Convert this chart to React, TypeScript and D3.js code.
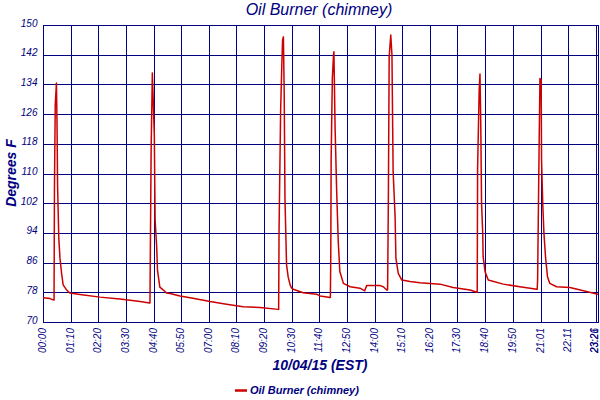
import React, { useEffect, useRef } from 'react';
import * as d3 from 'd3';

// minutes after midnight, 10/04/15
const timeMinutes = [
  0, 18, 27, 28, 29, 31, 34, 35.5, 37, 40, 43, 47, 51, 60, 68, 94, 144, 195, 246, 270,
  271, 272, 274, 277, 282, 284, 288, 290, 296, 305, 313, 322, 347, 380, 423, 465, 507, 550, 596,
  597, 598, 602, 605, 607, 609, 611, 613, 617, 621, 626, 630, 634, 659, 693, 702, 727,
  728, 729, 730, 733, 736, 737, 740, 744, 748, 752, 761, 778, 803, 815, 820, 854, 862, 871,
  873, 875, 877, 881, 884, 887, 892, 894, 900, 909, 930, 955, 1006, 1039, 1082, 1099,
  1100, 1101, 1105, 1107, 1109, 1111, 1114, 1115, 1120, 1128, 1166, 1208, 1251,
  1252, 1253, 1257, 1259, 1262, 1263, 1266, 1269, 1273, 1278, 1284, 1301, 1335, 1377, 1406,
];

const degreesF = [
  76.5, 76.3, 75.9, 75.9, 105.6, 128.4, 134.4, 123.6, 106.4, 92.6, 87.2, 83.2, 80, 78.6, 77.8, 77.4, 76.7, 76.2, 75.5, 75.1,
  75.1, 89.4, 116.9, 137.1, 120.4, 97.5, 90.2, 84, 79.4, 78.6, 77.8, 77.7, 77, 76.4, 75.5, 74.8, 74.1, 73.9, 73.4,
  73.4, 94.8, 126.9, 139.2, 146, 146.8, 132, 103.3, 85.4, 82.2, 80, 79.1, 78.8, 77.9, 77.5, 77, 76.6,
  76.6, 87.2, 114.1, 135.6, 141.9, 142.8, 122.2, 105.1, 91.6, 83.6, 80.4, 79.5, 79.1, 78.4, 79.8, 79.8, 79.5, 78.6,
  78.6, 104.2, 141.4, 147.3, 141.9, 110.5, 98.4, 87.2, 83.1, 81.3, 80.9, 80.6, 80.2, 79.3, 78.6, 78,
  78, 111.4, 132.5, 136.8, 123.5, 102, 93.9, 87.6, 83.5, 81.3, 80.2, 79.5, 78.8,
  78.8, 81.3, 119, 135.6, 135.2, 113.6, 102, 94, 87.6, 82.2, 80.4, 79.5, 79.3, 78.2, 77.5,
];

const xTickMinutes = [0, 70, 140, 210, 280, 350, 420, 490, 560, 630, 700, 770, 840, 910, 980, 1050, 1120, 1190, 1261, 1331, 1401, 1406];
const xTickLabels = ['00:00', '01:10', '02:20', '03:30', '04:40', '05:50', '07:00', '08:10', '09:20', '10:30', '11:40', '12:50', '14:00', '15:10', '16:20', '17:30', '18:40', '19:50', '21:01', '22:11', '23:21', '23:26'];
const yTicks = [70, 78, 86, 94, 102, 110, 118, 126, 134, 142, 150];

const NAVY = '#000080';
const RED = '#cc0000';
const FONT = '"Liberation Sans", Arial, sans-serif';

const OilBurnerChart: React.FC = () => {
  const chartRef = useRef<SVGSVGElement>(null);

  useEffect(() => {
    if (!chartRef.current) return;
    document.body.style.margin = '0';

    d3.select(chartRef.current).selectAll('*').remove();

    const width = 600;
    const height = 400;
    const plot = { left: 43, right: 598, top: 25, bottom: 322 };

    const svg = d3.select(chartRef.current)
      .attr('width', width)
      .attr('height', height)
      .style('background', '#fff')
      .style('display', 'block');

    const x = d3.scaleLinear().domain([0, 1406]).range([plot.left, plot.right]);
    const y = d3.scaleLinear().domain([70, 150]).range([plot.bottom, plot.top]);

    const crisp = (v: number) => Math.round(v) + 0.5;

    // grid
    const grid = svg.append('g').attr('stroke', NAVY).attr('stroke-width', 1);
    grid.selectAll('.vgrid')
      .data(xTickMinutes)
      .enter().append('line')
      .attr('x1', d => crisp(x(d)))
      .attr('x2', d => crisp(x(d)))
      .attr('y1', plot.top)
      .attr('y2', plot.bottom);
    grid.selectAll('.hgrid')
      .data(yTicks)
      .enter().append('line')
      .attr('x1', plot.left)
      .attr('x2', plot.right)
      .attr('y1', d => crisp(y(d)))
      .attr('y2', d => crisp(y(d)));

    // frame
    svg.append('rect')
      .attr('x', crisp(plot.left))
      .attr('y', crisp(plot.top))
      .attr('width', Math.round(plot.right - plot.left))
      .attr('height', Math.round(plot.bottom - plot.top))
      .attr('fill', 'none')
      .attr('stroke', NAVY)
      .attr('stroke-width', 1);

    // data line
    svg.append('clipPath').attr('id', 'plot-clip')
      .append('rect')
      .attr('x', plot.left)
      .attr('y', plot.top)
      .attr('width', plot.right - plot.left)
      .attr('height', plot.bottom - plot.top);

    const points = timeMinutes.map((t, i) => [t, degreesF[i]] as [number, number]);
    const line = d3.line<[number, number]>()
      .x(d => x(d[0]))
      .y(d => y(d[1]));

    svg.append('path')
      .datum(points)
      .attr('clip-path', 'url(#plot-clip)')
      .attr('fill', 'none')
      .attr('stroke', RED)
      .attr('stroke-width', 1.5)
      .attr('stroke-linejoin', 'round')
      .attr('d', line);

    // y tick labels
    svg.selectAll('.ylab')
      .data(yTicks)
      .enter().append('text')
      .attr('x', 37.5)
      .attr('y', d => y(d) + 1.5)
      .attr('text-anchor', 'end')
      .attr('fill', NAVY)
      .style('font-family', FONT)
      .style('font-style', 'italic')
      .style('font-size', '10px')
      .text(d => d);

    // x tick labels
    svg.selectAll('.xlab')
      .data(xTickMinutes)
      .enter().append('text')
      .attr('transform', d => `translate(${Math.min(x(d) + 3, 598)},328) rotate(-90)`)
      .attr('text-anchor', 'end')
      .attr('fill', NAVY)
      .style('font-family', FONT)
      .style('font-style', 'italic')
      .style('font-size', '10px')
      .text((d, i) => xTickLabels[i]);

    // title
    svg.append('text')
      .attr('x', 319)
      .attr('y', 15)
      .attr('text-anchor', 'middle')
      .attr('fill', NAVY)
      .style('font-family', FONT)
      .style('font-style', 'italic')
      .style('font-size', '16px')
      .text('Oil Burner (chimney)');

    // axis titles
    svg.append('text')
      .attr('x', 320)
      .attr('y', 370)
      .attr('text-anchor', 'middle')
      .attr('fill', NAVY)
      .style('font-family', FONT)
      .style('font-style', 'italic')
      .style('font-weight', 'bold')
      .style('font-size', '14px')
      .text('10/04/15 (EST)');

    svg.append('text')
      .attr('transform', 'translate(16,173) rotate(-90)')
      .attr('text-anchor', 'middle')
      .attr('fill', NAVY)
      .style('font-family', FONT)
      .style('font-style', 'italic')
      .style('font-weight', 'bold')
      .style('font-size', '14px')
      .text('Degrees F');

    // legend
    svg.append('line')
      .attr('x1', 235)
      .attr('x2', 247)
      .attr('y1', 390.5)
      .attr('y2', 390.5)
      .attr('stroke', RED)
      .attr('stroke-width', 2.5);
    svg.append('text')
      .attr('x', 250)
      .attr('y', 394)
      .attr('fill', NAVY)
      .style('font-family', FONT)
      .style('font-style', 'italic')
      .style('font-weight', 'bold')
      .style('font-size', '11px')
      .text('Oil Burner (chimney)');
  }, []);

  return <svg ref={chartRef}></svg>;
};

export default function App() {
  return <OilBurnerChart />;
}
